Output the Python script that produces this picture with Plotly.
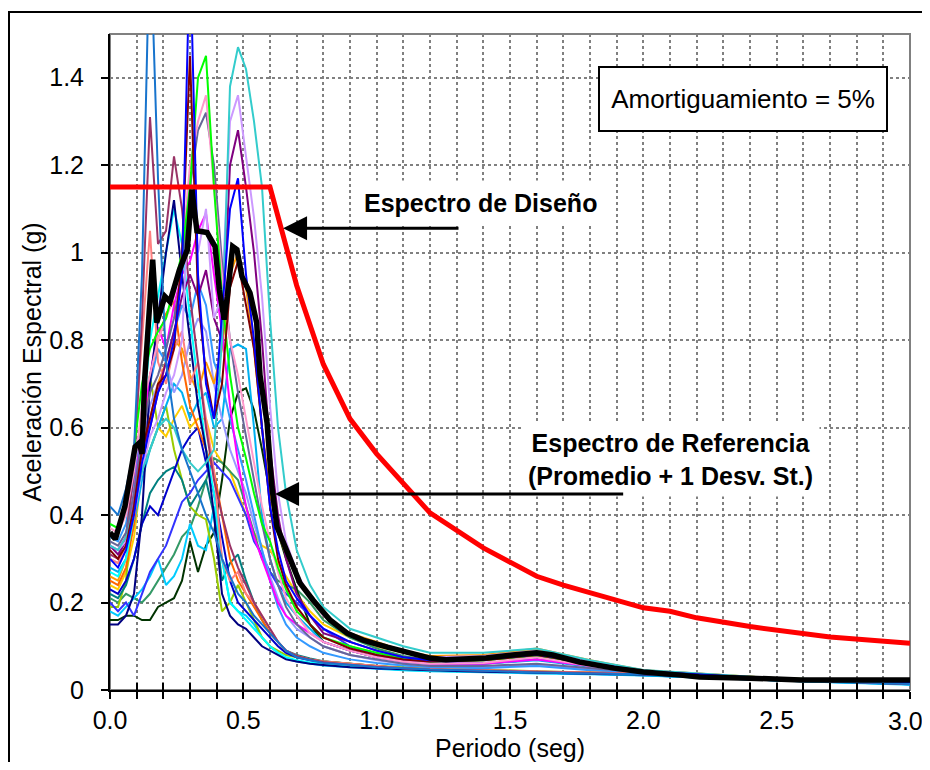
import plotly.graph_objects as go

# ---------------- DATA ----------------
# Period grid for the individual record spectra (s)
periods = [0.00, 0.03, 0.06, 0.09, 0.12, 0.15, 0.18, 0.21, 0.24, 0.27, 0.30, 0.33,
           0.36, 0.39, 0.42, 0.45, 0.48, 0.51, 0.54, 0.57, 0.60, 0.63, 0.66, 0.70,
           0.75, 0.80, 0.90, 1.00, 1.10, 1.20, 1.40, 1.60, 1.80, 2.00, 2.50, 3.00]

rec_steelblue = [0.42, 0.40, 0.46, 0.55, 0.95, 1.75, 1.17, 0.75, 0.62, 0.55, 0.50, 0.45, 0.40, 0.36, 0.30, 0.26, 0.22, 0.20, 0.17, 0.15, 0.13,
                 0.11, 0.09, 0.075, 0.068, 0.062, 0.058, 0.052, 0.05, 0.047, 0.044, 0.04, 0.038, 0.036, 0.024, 0.014]
rec_blue = [0.30, 0.28, 0.32, 0.40, 0.52, 0.60, 0.68, 0.72, 0.80, 0.95, 1.70, 0.95, 0.70, 0.62, 0.85, 1.10, 1.17, 0.95, 0.80, 0.60, 0.42,
            0.32, 0.25, 0.21, 0.17, 0.14, 0.11, 0.09, 0.075, 0.068, 0.07, 0.082, 0.062, 0.043, 0.026, 0.017]
rec_maroon = [0.32, 0.30, 0.33, 0.42, 0.55, 0.62, 0.70, 0.72, 0.78, 1.00, 1.45, 0.90, 0.72, 0.62, 0.70, 0.92, 0.98, 0.88, 0.78, 0.60, 0.42,
              0.30, 0.24, 0.19, 0.15, 0.12, 0.095, 0.08, 0.07, 0.065, 0.068, 0.08, 0.06, 0.042, 0.025, 0.016]
rec_lime = [0.38, 0.37, 0.42, 0.55, 0.70, 0.78, 0.82, 0.85, 0.92, 1.00, 1.15, 1.40, 1.45, 1.15, 0.90, 0.72, 0.60, 0.53, 0.45, 0.38, 0.34,
            0.28, 0.23, 0.18, 0.15, 0.12, 0.10, 0.085, 0.072, 0.065, 0.068, 0.08, 0.06, 0.042, 0.026, 0.017]
rec_pink = [0.37, 0.36, 0.40, 0.50, 0.65, 0.72, 0.80, 0.85, 0.90, 1.00, 1.20, 1.30, 1.36, 1.15, 0.95, 0.80, 0.72, 0.62, 0.52, 0.42, 0.34,
            0.27, 0.21, 0.17, 0.13, 0.11, 0.09, 0.075, 0.065, 0.06, 0.062, 0.075, 0.055, 0.04, 0.025, 0.016]
rec_slate = [0.34, 0.33, 0.36, 0.45, 0.58, 0.68, 0.72, 0.78, 0.85, 0.95, 1.15, 1.28, 1.32, 1.20, 0.98, 0.80, 0.68, 0.58, 0.48, 0.38, 0.30,
             0.24, 0.19, 0.15, 0.12, 0.10, 0.08, 0.07, 0.06, 0.055, 0.055, 0.06, 0.05, 0.04, 0.024, 0.015]
rec_turquoise = [0.33, 0.32, 0.35, 0.42, 0.50, 0.55, 0.60, 0.62, 0.60, 0.55, 0.52, 0.50, 0.52, 0.55, 0.80, 1.38, 1.47, 1.42, 1.30, 1.15, 0.85,
                 0.60, 0.45, 0.32, 0.24, 0.19, 0.14, 0.12, 0.10, 0.085, 0.085, 0.095, 0.068, 0.046, 0.027, 0.02]
rec_lavender = [0.33, 0.32, 0.34, 0.40, 0.50, 0.58, 0.62, 0.68, 0.72, 0.80, 1.18, 1.00, 1.10, 0.85, 0.90, 1.30, 1.36, 1.22, 1.08, 0.90, 0.65,
                0.45, 0.34, 0.27, 0.21, 0.17, 0.13, 0.105, 0.085, 0.075, 0.078, 0.09, 0.066, 0.045, 0.026, 0.018]
rec_purple = [0.33, 0.31, 0.34, 0.42, 0.55, 0.60, 0.68, 0.75, 0.82, 0.90, 0.95, 0.90, 0.96, 0.85, 0.80, 1.20, 1.28, 1.15, 1.00, 0.80, 0.55,
              0.40, 0.30, 0.22, 0.17, 0.13, 0.11, 0.09, 0.075, 0.068, 0.07, 0.083, 0.062, 0.043, 0.026, 0.017]
rec_plum = [0.31, 0.30, 0.35, 0.50, 0.85, 1.31, 1.02, 1.05, 1.22, 1.10, 0.90, 0.75, 0.60, 0.48, 0.40, 0.33, 0.28, 0.24, 0.20, 0.17, 0.14,
            0.11, 0.09, 0.078, 0.07, 0.064, 0.058, 0.053, 0.05, 0.047, 0.044, 0.041, 0.039, 0.036, 0.024, 0.014]
rec_salmon = [0.30, 0.29, 0.33, 0.55, 0.80, 1.05, 0.75, 0.70, 0.78, 0.82, 0.70, 0.75, 0.62, 0.50, 0.30, 0.25, 0.27, 0.22, 0.20, 0.17, 0.14,
              0.11, 0.09, 0.078, 0.07, 0.065, 0.06, 0.055, 0.05, 0.048, 0.045, 0.043, 0.04, 0.037, 0.025, 0.015]
rec_navy = [0.15, 0.15, 0.17, 0.22, 0.40, 0.70, 0.85, 1.00, 1.12, 0.95, 0.80, 0.65, 0.55, 0.40, 0.22, 0.17, 0.15, 0.14, 0.12, 0.10, 0.09,
            0.08, 0.07, 0.065, 0.06, 0.057, 0.052, 0.05, 0.047, 0.045, 0.042, 0.04, 0.038, 0.035, 0.023, 0.014]
rec_cyan = [0.27, 0.26, 0.30, 0.40, 0.60, 0.80, 0.90, 1.00, 1.10, 1.02, 0.85, 0.70, 0.55, 0.45, 0.30, 0.20, 0.18, 0.16, 0.14, 0.12, 0.10,
            0.085, 0.075, 0.068, 0.063, 0.06, 0.055, 0.05, 0.046, 0.044, 0.041, 0.04, 0.037, 0.034, 0.022, 0.013]
rec_magenta = [0.33, 0.32, 0.35, 0.45, 0.60, 0.72, 0.83, 0.78, 0.88, 0.95, 0.98, 1.05, 1.09, 0.95, 0.82, 0.65, 0.52, 0.42, 0.35, 0.30, 0.25,
               0.20, 0.17, 0.15, 0.13, 0.11, 0.09, 0.075, 0.065, 0.06, 0.06, 0.07, 0.055, 0.04, 0.024, 0.015]
rec_orange = [0.26, 0.25, 0.30, 0.40, 0.55, 0.62, 0.70, 0.75, 0.80, 0.78, 0.72, 0.68, 0.75, 0.70, 0.78, 0.95, 1.00, 0.92, 0.78, 0.60, 0.45,
              0.36, 0.31, 0.26, 0.21, 0.17, 0.13, 0.11, 0.09, 0.078, 0.08, 0.095, 0.068, 0.045, 0.027, 0.019]
rec_darkorange = [0.25, 0.24, 0.28, 0.38, 0.55, 0.72, 0.80, 0.86, 0.89, 0.75, 0.65, 0.60, 0.55, 0.50, 0.40, 0.30, 0.25, 0.22, 0.19, 0.16, 0.13,
                  0.11, 0.09, 0.078, 0.07, 0.065, 0.06, 0.055, 0.05, 0.047, 0.044, 0.042, 0.04, 0.037, 0.025, 0.016]
rec_darkgreen = [0.16, 0.16, 0.17, 0.17, 0.16, 0.16, 0.19, 0.20, 0.21, 0.25, 0.34, 0.27, 0.33, 0.36, 0.48, 0.62, 0.68, 0.69, 0.64, 0.55, 0.45,
                 0.36, 0.30, 0.23, 0.15, 0.11, 0.09, 0.075, 0.065, 0.06, 0.06, 0.07, 0.055, 0.04, 0.024, 0.013]
rec_seagreen = [0.21, 0.20, 0.22, 0.21, 0.20, 0.22, 0.25, 0.28, 0.31, 0.35, 0.37, 0.42, 0.48, 0.53, 0.52, 0.50, 0.48, 0.42, 0.36, 0.30, 0.27,
                0.25, 0.24, 0.23, 0.20, 0.16, 0.12, 0.095, 0.078, 0.068, 0.068, 0.078, 0.058, 0.04, 0.024, 0.014]
rec_darkblue = [0.23, 0.22, 0.25, 0.30, 0.38, 0.42, 0.40, 0.45, 0.50, 0.55, 0.58, 0.60, 0.52, 0.45, 0.35, 0.25, 0.20, 0.18, 0.16, 0.14, 0.12,
                0.10, 0.085, 0.075, 0.068, 0.062, 0.056, 0.05, 0.047, 0.045, 0.042, 0.04, 0.037, 0.034, 0.022, 0.013]
rec_royalblue = [0.20, 0.18, 0.20, 0.17, 0.22, 0.27, 0.30, 0.33, 0.38, 0.43, 0.45, 0.48, 0.50, 0.52, 0.50, 0.48, 0.44, 0.40, 0.34, 0.31, 0.27,
                 0.24, 0.22, 0.20, 0.17, 0.14, 0.10, 0.08, 0.07, 0.065, 0.062, 0.07, 0.055, 0.04, 0.024, 0.014]
rec_deepsky = [0.18, 0.17, 0.19, 0.21, 0.23, 0.26, 0.30, 0.24, 0.26, 0.30, 0.38, 0.33, 0.32, 0.42, 0.30, 0.20, 0.18, 0.17, 0.15, 0.12, 0.10,
               0.085, 0.072, 0.065, 0.06, 0.056, 0.052, 0.048, 0.045, 0.043, 0.04, 0.038, 0.036, 0.033, 0.022, 0.012]
rec_yellowgreen = [0.19, 0.19, 0.25, 0.45, 0.62, 0.72, 0.60, 0.65, 0.55, 0.48, 0.42, 0.40, 0.39, 0.30, 0.18, 0.20, 0.24, 0.20, 0.16, 0.12, 0.10,
                   0.09, 0.08, 0.075, 0.07, 0.065, 0.06, 0.055, 0.052, 0.05, 0.046, 0.043, 0.04, 0.037, 0.025, 0.015]
rec_teal = [0.22, 0.21, 0.24, 0.30, 0.38, 0.45, 0.48, 0.50, 0.51, 0.48, 0.42, 0.45, 0.48, 0.40, 0.25, 0.29, 0.31, 0.25, 0.20, 0.16, 0.13,
            0.11, 0.09, 0.08, 0.072, 0.066, 0.06, 0.055, 0.05, 0.048, 0.045, 0.042, 0.04, 0.037, 0.025, 0.015]
rec_gold = [0.24, 0.23, 0.27, 0.35, 0.50, 0.55, 0.60, 0.58, 0.62, 0.65, 0.60, 0.62, 0.62, 0.55, 0.52, 0.50, 0.45, 0.40, 0.36, 0.33, 0.32,
            0.29, 0.26, 0.22, 0.18, 0.15, 0.12, 0.10, 0.085, 0.074, 0.078, 0.093, 0.066, 0.045, 0.027, 0.019]
rec_lightblue = [0.28, 0.27, 0.30, 0.38, 0.48, 0.55, 0.60, 0.65, 0.70, 0.68, 0.62, 0.66, 0.68, 0.60, 0.62, 0.78, 0.79, 0.78, 0.60, 0.40, 0.30,
                 0.24, 0.20, 0.17, 0.14, 0.11, 0.09, 0.075, 0.065, 0.06, 0.06, 0.068, 0.053, 0.04, 0.024, 0.014]
rec_cornflower = [0.35, 0.34, 0.38, 0.48, 0.60, 0.70, 0.78, 0.75, 0.82, 0.88, 0.85, 0.93, 0.88, 0.75, 0.70, 0.62, 0.55, 0.48, 0.40, 0.32, 0.25,
                  0.19, 0.15, 0.12, 0.10, 0.085, 0.07, 0.062, 0.056, 0.052, 0.05, 0.055, 0.045, 0.038, 0.023, 0.014]
rec_periwinkle = [0.30, 0.29, 0.32, 0.42, 0.55, 0.65, 0.70, 0.75, 0.68, 0.72, 0.80, 0.85, 0.82, 0.70, 0.62, 0.55, 0.50, 0.45, 0.38, 0.32, 0.26,
                  0.21, 0.17, 0.14, 0.12, 0.10, 0.08, 0.068, 0.06, 0.055, 0.052, 0.058, 0.047, 0.038, 0.023, 0.014]

# Reference spectrum (mean + 1 std)
ref_periods = [0.0, 0.02, 0.056, 0.094, 0.11, 0.12, 0.13, 0.15, 0.16, 0.175, 0.206, 0.225, 0.26, 0.29, 0.307,
               0.326, 0.364, 0.394, 0.41, 0.428, 0.44, 0.46, 0.476, 0.495, 0.525, 0.55, 0.5625, 0.589, 0.607,
               0.626, 0.664, 0.712, 0.761, 0.825, 0.889, 0.949, 1.04, 1.2, 1.26, 1.41, 1.51, 1.60, 1.66,
               1.76, 1.89, 2.0, 2.14, 2.21, 2.4, 2.59, 3.0]
ref_sa = [0.36, 0.345, 0.42, 0.556, 0.565, 0.54, 0.71, 0.93, 0.984, 0.84, 0.90, 0.888, 0.96, 1.007, 1.144,
          1.05, 1.046, 1.014, 0.915, 0.847, 0.90, 1.014, 1.007, 0.945, 0.908, 0.84, 0.72, 0.611, 0.465,
          0.373, 0.313, 0.245, 0.206, 0.16, 0.13, 0.114, 0.098, 0.073, 0.069, 0.073, 0.08, 0.085, 0.08,
          0.064, 0.05, 0.041, 0.034, 0.03, 0.027, 0.023, 0.023]

# Design spectrum
design_periods = [0.0, 0.6, 0.7, 0.8, 0.9, 1.0, 1.2, 1.4, 1.6, 1.7, 2.0, 2.1, 2.2, 2.4, 2.7, 3.0]
design_sa = [1.15, 1.15, 0.925, 0.745, 0.62, 0.54, 0.405, 0.325, 0.26, 0.24, 0.188, 0.18, 0.165, 0.145, 0.121, 0.107]

x_tickvals = [0.0, 0.1, 0.2, 0.3, 0.4, 0.5, 0.6, 0.7, 0.8, 0.9, 1.0, 1.1, 1.2, 1.3, 1.4, 1.5,
              1.6, 1.7, 1.8, 1.9, 2.0, 2.1, 2.2, 2.3, 2.4, 2.5, 2.6, 2.7, 2.8, 2.9, 3.0]
x_ticklabels = ["0.0", "", "", "", "", "0.5", "", "", "", "", "1.0", "", "", "", "", "1.5",
                "", "", "", "", "2.0", "", "", "", "", "2.5", "", "", "", "", ""]
x_last_label = "3.0"   # drawn as a text annotation at the right edge (it overflows the chart edge)
y_tickvals = [0, 0.2, 0.4, 0.6, 0.8, 1.0, 1.2, 1.4]
y_ticklabels = ["0", "0.2", "0.4", "0.6", "0.8", "1", "1.2", "1.4"]

records = [
    ("#FFCC00", rec_gold), ("#339966", rec_seagreen), ("#003300", rec_darkgreen),
    ("#00CCFF", rec_deepsky), ("#99CC00", rec_yellowgreen), ("#008080", rec_teal),
    ("#0000CC", rec_darkblue), ("#3333FF", rec_royalblue), ("#00B0F0", rec_lightblue),
    ("#9999FF", rec_periwinkle), ("#3399FF", rec_cornflower), ("#FF6600", rec_darkorange),
    ("#FF9900", rec_orange), ("#FF00FF", rec_magenta), ("#00FFFF", rec_cyan),
    ("#000080", rec_navy), ("#FF8080", rec_salmon), ("#993366", rec_plum),
    ("#800080", rec_purple), ("#CC99FF", rec_lavender), ("#33CCCC", rec_turquoise),
    ("#666699", rec_slate), ("#FF99CC", rec_pink), ("#00FF00", rec_lime),
    ("#800000", rec_maroon), ("#0000FF", rec_blue), ("#1874CD", rec_steelblue),
]

FONT = "Liberation Sans, Arial, sans-serif"

fig = go.Figure()
for color, vals in records:
    fig.add_trace(go.Scatter(x=periods, y=vals, mode="lines",
                             line=dict(color=color, width=2), showlegend=False, hoverinfo="skip"))

fig.add_trace(go.Scatter(x=design_periods, y=design_sa, mode="lines",
                         line=dict(color="#FF0000", width=5), showlegend=False))
fig.add_trace(go.Scatter(x=ref_periods, y=ref_sa, mode="lines",
                         line=dict(color="#000000", width=5.5), showlegend=False))
# dummy trace for the overlay axis carrying the inner tick marks
fig.add_trace(go.Scatter(x=[None], y=[None], xaxis="x2", showlegend=False))

fig.update_layout(
    width=914, height=754,
    margin=dict(l=102, r=12, t=26, b=72, autoexpand=False),
    paper_bgcolor="white", plot_bgcolor="white",
    font=dict(family=FONT, size=25, color="black"),
    xaxis=dict(range=[0, 3.0], tickvals=x_tickvals, ticktext=x_ticklabels,
               ticks="outside", ticklen=7, tickwidth=2, tickcolor="black",
               showline=True, linecolor="black", linewidth=2, automargin=False,
               showgrid=True, gridcolor="#808080", griddash="dot", gridwidth=1.5,
               zeroline=False, ticklabelstandoff=0, tickfont=dict(size=25),
               title=dict(text="Periodo (seg)", standoff=2, font=dict(size=25))),
    xaxis2=dict(range=[0, 3.0], overlaying="x", anchor="y", side="bottom", automargin=False,
                tickvals=x_tickvals, ticks="inside", ticklen=7, tickwidth=2, tickcolor="black",
                showticklabels=False, showgrid=False, showline=False, zeroline=False),
    yaxis=dict(range=[0, 1.5], tickvals=y_tickvals, ticktext=y_ticklabels,
               ticks="outside", ticklen=7, tickwidth=2, tickcolor="black",
               showline=True, linecolor="black", linewidth=2, automargin=False,
               showgrid=True, gridcolor="#808080", griddash="dot", gridwidth=1.5,
               zeroline=False, ticklabelstandoff=12, tickfont=dict(size=25),
               title=dict(text="Aceleración Espectral (g)", standoff=0, font=dict(size=25))),
    shapes=[
        dict(type="rect", xref="paper", yref="paper", x0=0, x1=1, y0=0, y1=1,
             line=dict(color="#808080", width=2), layer="below"),
        dict(type="rect", xref="paper", yref="paper", x0=-0.12625, x1=1.04, y0=-0.14, y1=1.0335,
             line=dict(color="black", width=2), layer="above"),
    ],
    annotations=[
        dict(xref="x", yref="paper", x=3.0, y=-0.0235, text=x_last_label, showarrow=False,
             font=dict(size=25), xanchor="center", yanchor="top", xshift=-5),
        dict(xref="paper", yref="paper", x=0.79125, y=0.9009, text="Amortiguamiento = 5%",
             showarrow=False, font=dict(size=26), bgcolor="white", bordercolor="black",
             borderwidth=2, width=284, height=60, xanchor="center", yanchor="middle"),
        dict(xref="paper", yref="paper", x=0.4625, y=0.7424, text="<b>Espectro de Diseño</b>",
             showarrow=False, font=dict(size=25), bgcolor="white", borderpad=8,
             xanchor="center", yanchor="middle"),
        dict(xref="paper", yref="paper", x=0.70, y=0.352,
             text="<b>Espectro de Referencia<br>(Promedio + 1 Desv. St.)</b>",
             showarrow=False, font=dict(size=25), bgcolor="white", borderpad=6,
             xanchor="center", yanchor="middle", align="center"),
        dict(xref="x", yref="y", x=0.649, y=1.056, axref="x", ayref="y", ax=1.3125, ay=1.056,
             text="", showarrow=True, arrowhead=2, arrowsize=1.6, arrowwidth=3, arrowcolor="black"),
        dict(xref="x", yref="y", x=0.619, y=0.448, axref="x", ayref="y", ax=1.93, ay=0.448,
             text="", showarrow=True, arrowhead=2, arrowsize=1.6, arrowwidth=3, arrowcolor="black"),
    ],
)

fig.write_html("out.html")
